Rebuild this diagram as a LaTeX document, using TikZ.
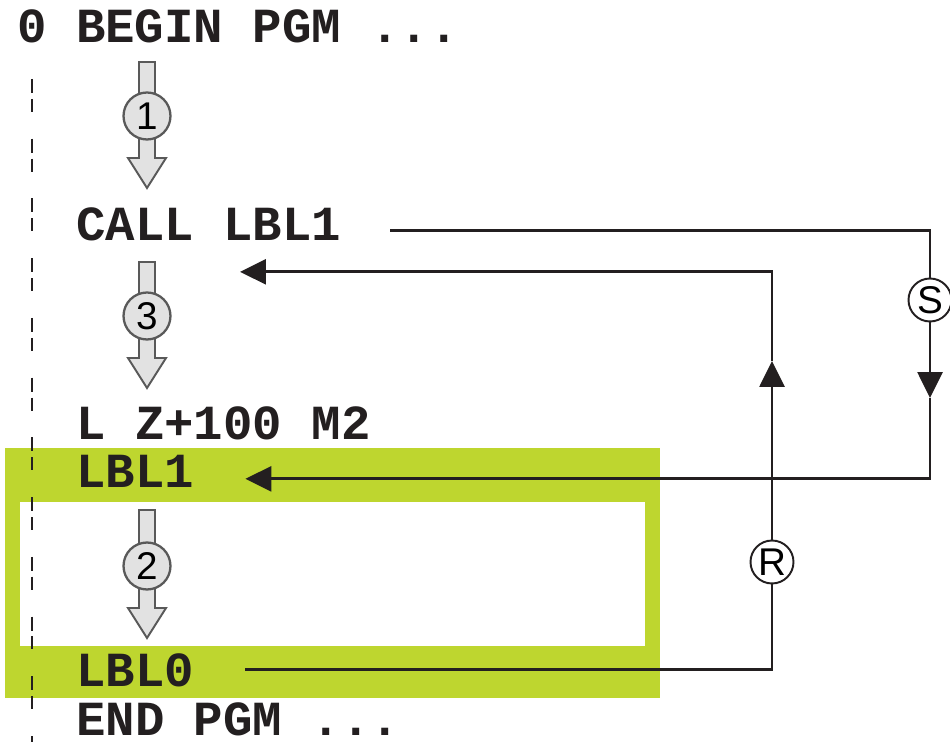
\documentclass[tikz,border=0pt]{standalone}
\usepackage{fontspec}
\setmainfont{Liberation Sans}
\newfontfamily\codefont{Liberation Mono}
\usetikzlibrary{arrows.meta}
\definecolor{lblGreen}{RGB}{190,214,47}
\definecolor{stepGray}{RGB}{226,226,226}
\definecolor{inkBlack}{RGB}{35,31,32}

\tikzset{
  code/.style={font=\codefont\bfseries\fontsize{27.9}{30}\selectfont, text=inkBlack, inner sep=0pt, anchor=base west},
  stepnum/.style={circle, draw=black!65, fill=stepGray, line width=1.3pt, minimum size=0.94cm, inner sep=0pt, font=\fontsize{22}{24}\selectfont},
  jumpnum/.style={circle, draw=inkBlack, fill=white, line width=1.1pt, minimum size=0.86cm, inner sep=0pt, font=\fontsize{22}{24}\selectfont},
  jump/.style={draw=inkBlack, line width=1.6pt},
  jumptip/.style={-{Triangle[length=0.52cm, width=0.5cm]}}
}

\begin{document}
\begin{tikzpicture}[x=0.02cm, y=-0.02cm]
  \useasboundingbox (0,0) rectangle (950,742);

  % subprogram frame
  \fill[lblGreen] (5,448) rectangle (660,698);
  \fill[white] (20,502) rectangle (645,646);

  % program border
  \draw[inkBlack, line width=1.6pt, dash pattern=on 7.9pt off 3.4pt on 7.4pt off 15.3pt] (32,79) -- (32,742);

  % program lines
  \node[code] (begin) at (17,43) {0 BEGIN PGM ...};
  \node[code] (call) at (76,241) {CALL LBL1};
  \node[code] (lz) at (76,440) {L Z+100 M2};
  \node[code] (lbl1) at (76,488) {LBL1};
  \node[code] (lbl0) at (76,686) {LBL0};
  \node[code] (end) at (76,735) {END PGM ...};

  % execution steps
  \foreach \n/\top/\cy in {1/62/116, 3/262/316, 2/510/566} {
    \draw[black!65, fill=stepGray, line width=1.1pt, line join=miter]
      (139,\top) -- (155,\top) -- (155,\cy+42) -- (166,\cy+42)
      -- (147,\cy+72) -- (128,\cy+42) -- (139,\cy+42) -- cycle;
    \node[stepnum] (num\n) at (147,\cy) {\n};
  }

  % jump to subprogram
  \node[jumpnum] (jumpS) at (930,300) {S};
  \coordinate (sdown) at (930,398);
  \draw[jump] ([shift={(49,6)}]call.east) -| (jumpS.north);
  \draw[jump, jumptip] (jumpS.south) -- (sdown);
  \draw[jump, jumptip] (sdown) |- ([shift={(51,7)}]lbl1.east);

  % return jump
  \node[jumpnum] (jumpR) at (772,562) {R};
  \coordinate (rup) at (772,361);
  \draw[jump] ([shift={(51,0)}]lbl0.east) -| (jumpR.south);
  \draw[jump, jumptip] (jumpR.north) -- (rup);
  \draw[jump, jumptip] (rup) |- ([shift={(164,47)}]call.west);
\end{tikzpicture}
\end{document}
